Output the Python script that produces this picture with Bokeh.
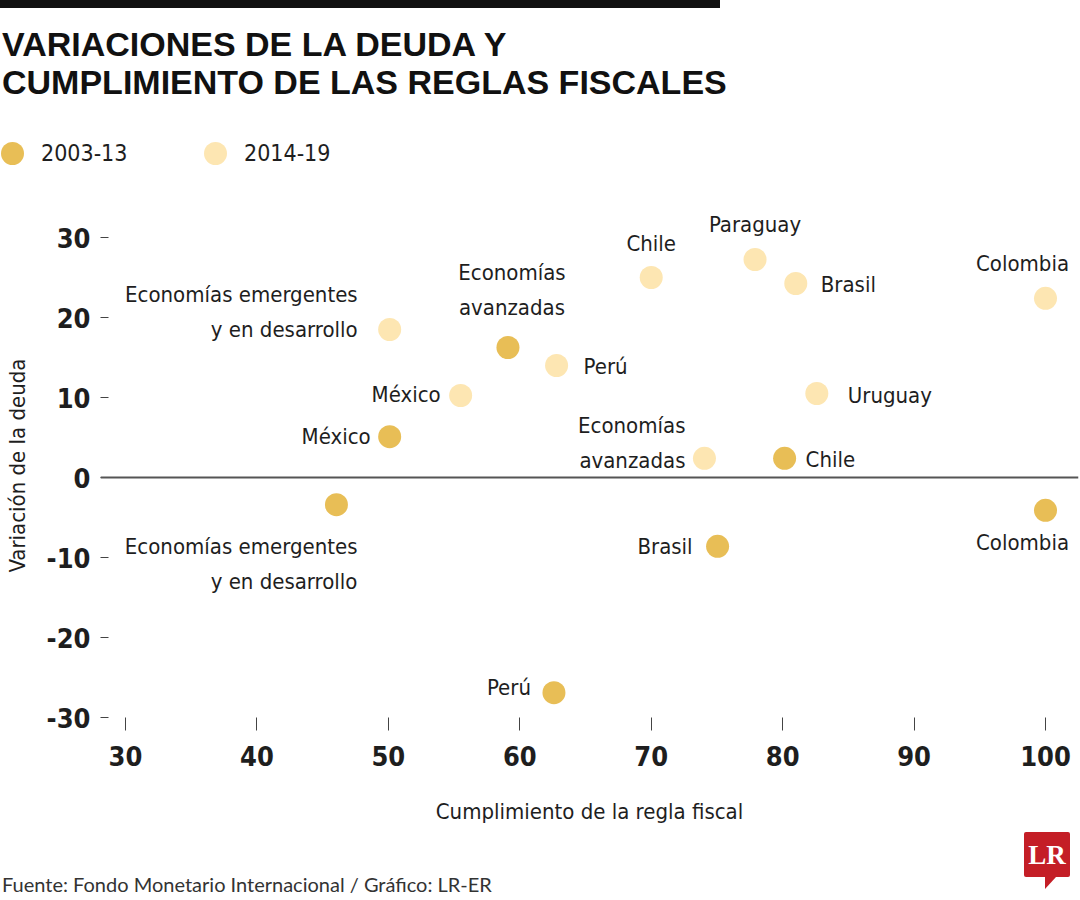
from bokeh.plotting import figure
from bokeh.layouts import column
from bokeh.models import (ColumnDataSource, Span, FixedTicker, Range1d, PrintfTickFormatter, Div)
from bokeh.embed import file_html
from bokeh.resources import INLINE
from bokeh.core.properties import value, field

# ---------------- data ----------------
names_0313 = ["Economías emergentes\ny en desarrollo", "México", "Economías\navanzadas",
              "Perú", "Brasil", "Chile", "Colombia"]
rule_0313 = [46.05, 50.1, 59.1, 62.6, 75.05, 80.15, 100.0]
debt_0313 = [-3.4, 5.1, 16.25, -26.9, -8.6, 2.4, -4.1]

names_1419 = ["Economías emergentes\ny en desarrollo", "México", "Perú", "Chile", "Paraguay",
              "Brasil", "Colombia", "Uruguay", "Economías\navanzadas"]
rule_1419 = [50.1, 55.5, 62.8, 70.0, 77.9, 81.0, 100.0, 82.6, 74.05]
debt_1419 = [18.5, 10.25, 14.0, 25.0, 27.25, 24.25, 22.4, 10.5, 2.4]

x_ticks = [30, 40, 50, 60, 70, 80, 90, 100]
y_ticks = [-30, -20, -10, 0, 10, 20, 30]

series_labels = ["2003-13", "2014-19"]
title_lines = ["VARIACIONES DE LA DEUDA Y", "CUMPLIMIENTO DE LAS REGLAS FISCALES"]
x_title = "Cumplimiento de la regla fiscal"
y_title = "Variación de la deuda"
source_text = "Fuente: Fondo Monetario Internacional / Gráfico: LR-ER"
logo_text = "LR"

# ---------------- style / placement ----------------
C_DARK = "#E8BE56"
C_LIGHT = "#FDE6B2"
TXT = "#1e1e1e"
COND = "DejaVu Sans Condensed, sans-serif"
LABEL_SIZE = "22px"
LINE_GAP = 35

# label offsets in pixels (dx right, dy down = block centre), alignment
place_0313 = [(21, 59, "right"), (-19, 0, "right"), (4, -58, "center"), (-23, -5, "right"),
              (-25, 0, "right"), (21, 1, "left"), (-23, 32, "center")]
place_1419 = [(-32, -18, "right"), (-20, -1, "right"), (27, 1, "left"), (0, -34, "center"),
              (0, -35, "center"), (25, 1, "left"), (-23, -35, "center"), (31, 2, "left"),
              (-19, -15, "right")]

W = 1080
HEAD_H = 200
FL, FR = 100, 1078
FRAME_H = 530
MAIN_BOTTOM = 102
FOOT_H = 900 - HEAD_H - FRAME_H - MAIN_BOTTOM


def dot(cx, cy, d, color):
    return (f'<div style="position:absolute;left:{cx - d / 2}px;top:{cy - d / 2}px;'
            f'width:{d}px;height:{d}px;border-radius:50%;background:{color};"></div>')


def txt(left, top, s, css):
    return (f'<div style="position:absolute;left:{left}px;top:{top}px;white-space:nowrap;'
            f'{css}">{s}</div>')


# ---------------- header (HTML) ----------------
title_css = ("font-family:'Liberation Sans',sans-serif;font-weight:bold;font-size:34px;"
             "line-height:34px;color:#111111;")
leg_css = f"font-family:'DejaVu Sans Condensed',sans-serif;font-size:23px;line-height:23px;color:{TXT};"
head_html = (
    f'<div style="position:relative;width:{W}px;height:{HEAD_H}px;background:white;">'
    '<div style="position:absolute;left:0;top:0;width:720px;height:8px;background:#111111;"></div>'
    + txt(2, 27, title_lines[0], title_css)
    + txt(2, 65, title_lines[1], title_css)
    + dot(12.5, 153.5, 23, C_DARK)
    + txt(41, 142, series_labels[0], leg_css)
    + dot(215, 153.5, 23, C_LIGHT)
    + txt(244, 142, series_labels[1], leg_css)
    + '</div>'
)
head = Div(text=head_html, width=W, height=HEAD_H, margin=0)

# ---------------- main chart ----------------
xpp = (1045 - 125) / 70.0
ypp = 8.0
x0 = 30 - (125 - FL) / xpp
x1 = 100 + (FR - 1045) / xpp
y1 = 30 + (237 - HEAD_H) / ypp
y0 = y1 - FRAME_H / ypp

p = figure(frame_width=FR - FL, frame_height=FRAME_H, output_backend="svg",
           toolbar_location=None, x_range=Range1d(x0, x1), y_range=Range1d(y0, y1),
           min_border_left=FL, min_border_right=W - FR, min_border_top=0,
           min_border_bottom=MAIN_BOTTOM, margin=0)
p.outline_line_color = None
p.xgrid.visible = False
p.ygrid.visible = False
p.background_fill_color = "white"
p.border_fill_color = "white"

for ax in (p.xaxis[0], p.yaxis[0]):
    ax.axis_line_color = None
    ax.major_tick_out = 0
    ax.minor_tick_line_color = None
    ax.major_tick_line_color = "#444444"
    ax.major_tick_line_width = 1
    ax.major_label_text_font = COND
    ax.major_label_text_font_style = "bold"
    ax.major_label_text_font_size = "27px"
    ax.major_label_text_color = TXT
    ax.axis_label_text_font = COND
    ax.axis_label_text_font_style = "normal"
    ax.axis_label_text_font_size = LABEL_SIZE
    ax.axis_label_text_color = TXT
    ax.formatter = PrintfTickFormatter(format="%d")

p.xaxis.ticker = FixedTicker(ticks=x_ticks)
p.yaxis.ticker = FixedTicker(ticks=y_ticks)
p.xaxis.major_tick_in = 13
p.yaxis.major_tick_in = 8
p.xaxis.major_label_standoff = 15
p.yaxis.major_label_standoff = 10
p.xaxis.axis_label = x_title
p.xaxis.axis_label_standoff = 30
p.yaxis.axis_label = y_title
p.yaxis.axis_label_standoff = 14

p.add_layout(Span(location=0, dimension="width", line_color="#555555", line_width=2))

src_a = ColumnDataSource(dict(x=rule_0313, y=debt_0313))
src_b = ColumnDataSource(dict(x=rule_1419, y=debt_1419))
p.scatter("x", "y", source=src_b, size=23, fill_color=C_LIGHT, line_color=None)
p.scatter("x", "y", source=src_a, size=23, fill_color=C_DARK, line_color=None)


def build_label_rows(names, xs, ys, places):
    rows = dict(x=[], y=[], text=[], dx=[], dy=[], align=[])
    for n, x, y, (dx, dy, al) in zip(names, xs, ys, places):
        lines = n.split("\n")
        k = len(lines)
        for i, ln in enumerate(lines):
            rows["x"].append(x)
            rows["y"].append(y)
            rows["text"].append(ln)
            rows["dx"].append(dx)
            rows["dy"].append(dy + (i - (k - 1) / 2) * LINE_GAP)
            rows["align"].append(al)
    return rows


for names, xs, ys, places in ((names_0313, rule_0313, debt_0313, place_0313),
                              (names_1419, rule_1419, debt_1419, place_1419)):
    rows = build_label_rows(names, xs, ys, places)
    p.text("x", "y", text="text", source=ColumnDataSource(rows),
           x_offset="dx", y_offset="dy", text_align=field("align"),
           text_baseline="middle", text_font=value(COND), text_font_size=LABEL_SIZE,
           text_color=TXT)

# ---------------- footer (HTML) ----------------
top0 = HEAD_H + FRAME_H + MAIN_BOTTOM          # canvas y of footer top
src_css = "font-family:Lato,sans-serif;font-size:20px;line-height:20px;color:#333333;"
logo_css = ("font-family:'Liberation Serif',serif;font-weight:bold;font-size:27px;"
            "line-height:27px;color:white;width:46px;text-align:center;")
foot_html = (
    f'<div style="position:relative;width:{W}px;height:{FOOT_H}px;background:white;">'
    + txt(2, 885 - top0 - 11, source_text, src_css)
    + f'<div style="position:absolute;left:1024px;top:{832 - top0}px;width:46px;height:45px;'
      'background:#C41E26;border-radius:2px;"></div>'
    + f'<div style="position:absolute;left:1045px;top:{877 - top0}px;width:0;height:0;'
      'border-top:12px solid #C41E26;border-right:11px solid transparent;"></div>'
    + txt(1024, 842 - top0, logo_text, logo_css)
    + '</div>'
)
foot = Div(text=foot_html, width=W, height=FOOT_H, margin=0)

layout = column(head, p, foot, spacing=0)
open("out.html", "w").write(file_html(layout, INLINE))
